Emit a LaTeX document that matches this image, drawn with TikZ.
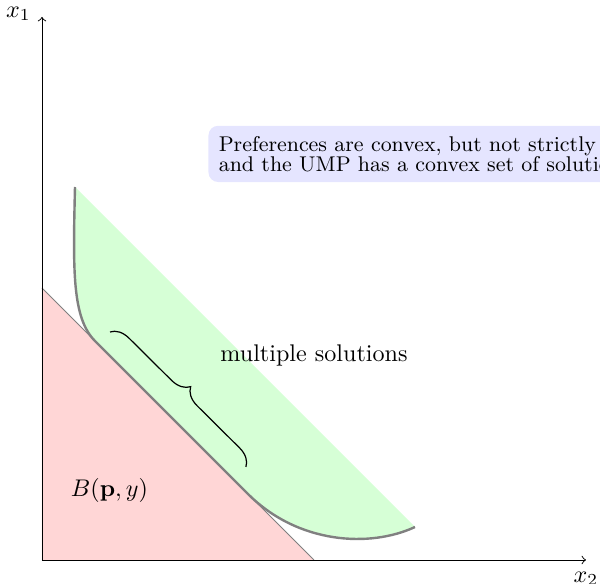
\documentclass[tikz,border=0pt]{standalone}
\usetikzlibrary{decorations.pathreplacing}
\begin{document}
\begin{tikzpicture}[x=0.415pt,y=-0.415pt,
  budgetfill/.style={fill=red!16},
  prefill/.style={fill=green!16},
  budgetline/.style={draw=gray, line width=0.4pt},
  icurve/.style={draw=gray, line width=1pt},
  axis/.style={draw=black, line width=0.4pt, ->},
  notebox/.style={fill=blue!10, rounded corners=4pt, inner sep=4.3pt, font=\fontsize{8.85pt}{10.6pt}\selectfont, align=left, anchor=north west},
  bracestyle/.style={draw=black, line width=0.5pt, decorate, decoration={brace, amplitude=7.5pt}}]
\useasboundingbox (0,0) rectangle (600,584);
% key points
\coordinate (O) at (42,560);
\coordinate (ytip) at (42,17);
\coordinate (xtip) at (586,560);
\coordinate (btop) at (42,288);
\coordinate (bbot) at (314,560);
\coordinate (itop) at (75,187);
\coordinate (t1) at (95,341);
\coordinate (t2) at (248,494);
\coordinate (iend) at (415,527);
\coordinate (bs) at (110,332);
\coordinate (be) at (246,467);
% budget set
\fill[budgetfill] (btop) -- (O) -- (bbot) -- cycle;
% upper contour set
\fill[prefill] (itop) .. controls (73,270) and (72,318) .. (t1) -- (t2)
  .. controls (298,544) and (370,548) .. (iend) -- cycle;
% budget line
\draw[budgetline] (btop) -- (bbot);
% indifference curve
\draw[icurve] (itop) .. controls (73,270) and (72,318) .. (t1) -- (t2)
  .. controls (298,544) and (370,548) .. (iend);
% axes
\draw[axis] (O) -- (ytip);
\draw[axis] (O) -- (xtip);
\node (x1) at (18.5,14) {$x_1$};
\node (x2) at (586,579) {$x_2$};
% brace and labels
\draw[bracestyle] (bs) -- (be);
\node (ms) at (314,355) {multiple solutions};
\node (B) at (109.5,490) {$B(\mathbf{p},y)$};
\node[notebox] (note) at (208,125.3) {Preferences are convex, but not strictly\\[-2.3pt]and the UMP has a convex set of solutions.};
\end{tikzpicture}
\end{document}
